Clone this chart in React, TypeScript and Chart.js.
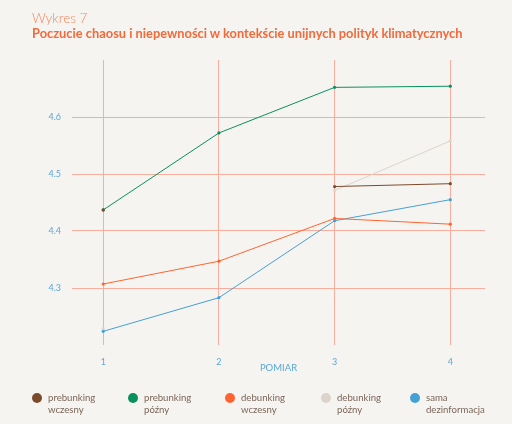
import React, { useEffect, useRef } from "react";
import Chart from "chart.js/auto";

// POMIAR 1..4
const pomiary = [1, 2, 3, 4];
const yTicks = [4.3, 4.4, 4.5, 4.6];

const seriesLabels = [
  ["prebunking", "wczesny"],
  ["prebunking", "późny"],
  ["debunking", "wczesny"],
  ["debunking", "późny"],
  ["sama", "dezinformacja"],
];
const seriesColors = ["#7b4a2b", "#0a9060", "#ff6430", "#dcd3cb", "#45a0d6"];

const prebunkingWczesny = [4.437, null, 4.478, 4.483];
const prebunkingPozny = [4.437, 4.572, 4.652, 4.654];
const debunkingWczesny = [4.307, 4.347, 4.422, 4.412];
const debunkingPozny = [4.229, null, 4.471, 4.558];
const samaDezinformacja = [4.224, 4.283, 4.418, 4.455];

const allSeries = [prebunkingWczesny, prebunkingPozny, debunkingWczesny, debunkingPozny, samaDezinformacja];

const FONT = "Lato, 'Open Sans', sans-serif";
const BG = "#f6f4f0";
const GRID = "#f8ad9d";
const TICK = "#5aa7d6";

const legendWidths = [96, 97, 96, 89, 90];

const App = () => {
  const chartRef = useRef<HTMLCanvasElement | null>(null);

  useEffect(() => {
    if (!chartRef.current) return;
    const ctx = chartRef.current.getContext("2d");
    if (!ctx) throw new Error("Could not get chart context");

    const myChart = new Chart(ctx, {
      type: "line",
      data: {
        datasets: allSeries.map((values, i) => ({
          label: seriesLabels[i].join(" "),
          data: values.map((v, j) => ({ x: pomiary[j], y: v })),
          borderColor: seriesColors[i],
          backgroundColor: seriesColors[i],
          borderWidth: 1,
          pointRadius: 1.6,
          pointBorderWidth: 0,
          pointBackgroundColor: seriesColors[i],
          spanGaps: false,
          tension: 0,
        })),
      },
      options: {
        animation: false,
        responsive: false,
        maintainAspectRatio: false,
        layout: { padding: { top: 60, right: 27, left: 0, bottom: 0 } },
        plugins: {
          legend: { display: false },
          tooltip: { enabled: false },
        },
        scales: {
          x: {
            type: "linear",
            min: 0.73,
            max: 4.3,
            afterBuildTicks: (s: any) => {
              s.ticks = pomiary.map((v) => ({ value: v }));
            },
            afterFit: (s: any) => {
              s.height = 79;
            },
            grid: { color: GRID, drawTicks: false, lineWidth: 1 },
            border: { display: false },
            ticks: {
              color: TICK,
              font: { family: FONT, size: 9 },
              padding: 12,
              callback: (v: any) => String(v),
            },
            title: {
              display: true,
              text: "POMIAR",
              color: TICK,
              font: { family: FONT, size: 9.5 },
              padding: { top: 0, bottom: 50 },
            },
          },
          y: {
            min: 4.2,
            max: 4.7,
            afterBuildTicks: (s: any) => {
              s.ticks = yTicks.map((v) => ({ value: v }));
            },
            afterFit: (s: any) => {
              s.width = 72;
            },
            grid: { color: GRID, drawTicks: false, lineWidth: 1 },
            border: { display: false },
            ticks: {
              color: TICK,
              font: { family: FONT, size: 9 },
              padding: 11,
              callback: (v: any) => Number(v).toFixed(1),
            },
          },
        },
      },
    });

    return () => {
      myChart.destroy();
    };
  }, []);

  return (
    <div
      style={{
        position: "fixed",
        left: 0,
        top: 0,
        width: 512,
        height: 424,
        background: BG,
        fontFamily: FONT,
        overflow: "hidden",
      }}
    >
      <canvas ref={chartRef} width={512} height={424} style={{ position: "absolute", left: 0, top: 0 }} />
      <div style={{ position: "absolute", left: 32, top: 11, lineHeight: "15px" }}>
        <div style={{ fontSize: 13.5, fontWeight: 300, color: "#f5845a" }}>Wykres 7</div>
        <div style={{ fontSize: 12.85, fontWeight: 700, color: "#f2693a" }}>
          Poczucie chaosu i niepewności w kontekście unijnych polityk klimatycznych
        </div>
      </div>
      <div style={{ position: "absolute", left: 32, top: 392, display: "flex" }}>
        {seriesLabels.map((lines, i) => (
          <div key={i} style={{ width: legendWidths[i], display: "flex", alignItems: "flex-start" }}>
            <span
              style={{
                width: 10,
                height: 10,
                borderRadius: 5,
                background: seriesColors[i],
                marginTop: 1,
                marginRight: 6,
                flex: "none",
              }}
            />
            <span style={{ fontSize: 9.6, lineHeight: "11.5px", color: "#7a665a" }}>
              {lines[0]}
              <br />
              {lines[1]}
            </span>
          </div>
        ))}
      </div>
    </div>
  );
};

export default App;
